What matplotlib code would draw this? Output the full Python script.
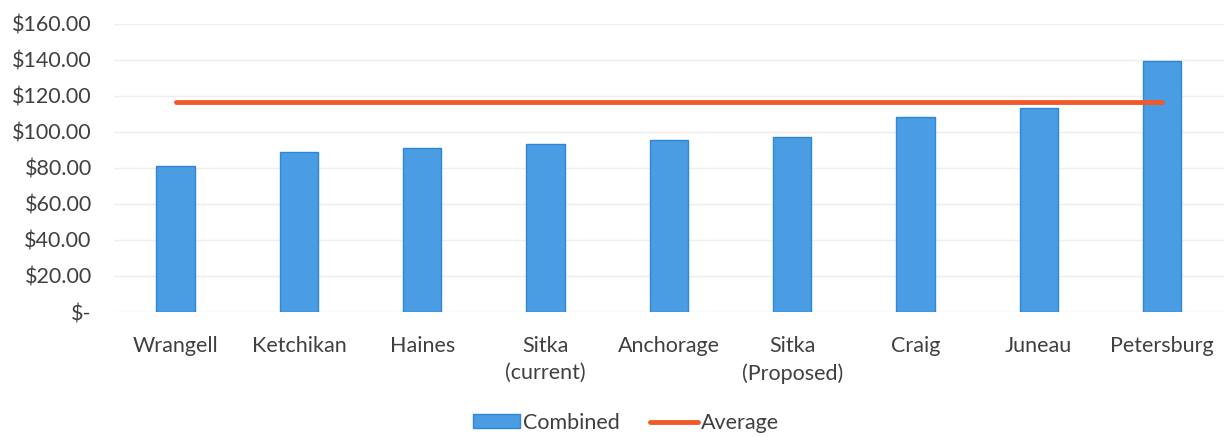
import matplotlib
matplotlib.use("Agg")
from matplotlib import pyplot as plt

cities = ["Wrangell", "Ketchikan", "Haines", "Sitka\n(current)", "Anchorage",
          "Sitka\n(Proposed)", "Craig", "Juneau", "Petersburg"]
combined = [81.1, 88.9, 91.1, 93.0, 95.4, 97.0, 108.0, 113.3, 139.2]
average = [116.5] * len(cities)
yticks = [0, 20, 40, 60, 80, 100, 120, 140, 160]
ytick_labels = ["$-", "$20.00", "$40.00", "$60.00", "$80.00", "$100.00",
                "$120.00", "$140.00", "$160.00"]

plt.rcParams["font.family"] = ["Lato", "DejaVu Sans"]
text_color = "#404040"

fig = plt.figure(figsize=(12.25, 4.37), dpi=100)
ax = fig.add_axes([0.093, 0.286, 0.906, 0.66])

x = list(range(len(cities)))
bars = ax.bar(x, combined, width=0.31, color="#4A9DE2", edgecolor="#2F86D8",
              linewidth=1, label="Combined", zorder=2)
line, = ax.plot(x, average, color="#F05A28", linewidth=3.5, solid_capstyle="round",
                label="Average", zorder=3)

ax.set_xlim(-0.5, len(cities) - 0.5)
ax.set_ylim(0, 160)
ax.set_yticks(yticks)
ax.set_yticklabels(ytick_labels)
ax.set_xticks(x)
ax.set_xticklabels(cities, linespacing=1.45)
ax.tick_params(axis="both", length=0, labelsize=15.5, colors=text_color)
ax.tick_params(axis="y", pad=16)
ax.tick_params(axis="x", pad=17)
ax.grid(axis="y", color="#EEEEEE", linewidth=1, zorder=0)
for s in ax.spines.values():
    s.set_visible(False)

fig.legend([bars, line], ["Combined", "Average"], loc="lower center", ncol=2,
           frameon=False, fontsize=15.5, bbox_to_anchor=(0.511, -0.035),
           handlelength=2.2, handleheight=0.6, columnspacing=1.4,
           handletextpad=0.15, labelcolor=text_color)

fig.savefig("out.png", dpi=100)
